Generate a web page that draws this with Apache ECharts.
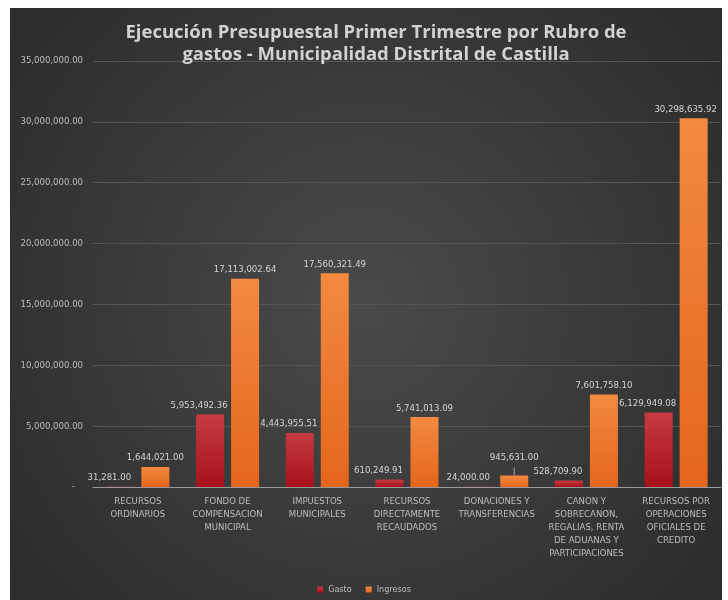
<!DOCTYPE html>
<html>
<head>
<meta charset="utf-8">
<script src="https://cdn.jsdelivr.net/npm/echarts@6/dist/echarts.min.js"></script>
<style>
  html, body { margin: 0; padding: 0; background: #fff; }
  #chart { width: 728px; height: 600px; }
</style>
</head>
<body>
<div id="chart"></div>
<script>
var categories = [
    'RECURSOS\nORDINARIOS',
    'FONDO DE\nCOMPENSACION\nMUNICIPAL',
    'IMPUESTOS\nMUNICIPALES',
    'RECURSOS\nDIRECTAMENTE\nRECAUDADOS',
    'DONACIONES Y\nTRANSFERENCIAS',
    'CANON Y\nSOBRECANON,\nREGALIAS, RENTA\nDE ADUANAS Y\nPARTICIPACIONES',
    'RECURSOS POR\nOPERACIONES\nOFICIALES DE\nCREDITO'
];
var gasto = [31281.00, 5953492.36, 4443955.51, 610249.91, 24000.00, 528709.90, 6129949.08];
var ingresos = [1644021.00, 17113002.64, 17560321.49, 5741013.09, 945631.00, 7601758.10, 30298635.92];

var font = '"Liberation Sans Narrow", "DejaVu Sans Condensed", sans-serif';

function money(v) {
    return v.toLocaleString('en-US', { minimumFractionDigits: 2, maximumFractionDigits: 2 });
}

var myChart = echarts.init(document.getElementById('chart'));

var option = {
    animation: false,
    graphic: [{
        type: 'rect',
        z: -10,
        silent: true,
        shape: { x: 10, y: 8, width: 712, height: 592 },
        style: {
            fill: new echarts.graphic.RadialGradient(0.5, 0.5, 0.75, [
                { offset: 0, color: '#4a4a4a' },
                { offset: 1, color: '#2c2c2c' }
            ])
        }
    }],
    title: {
        text: 'Ejecución Presupuestal Primer Trimestre por Rubro de\ngastos - Municipalidad Distrital de Castilla',
        left: 371,
        textAlign: 'center',
        top: 17,
        textStyle: {
            color: '#d2d2d2',
            fontFamily: '"Open Sans", sans-serif',
            fontWeight: 'bold',
            fontSize: 18.5,
            lineHeight: 22
        }
    },
    legend: {
        bottom: 1,
        left: 'center',
        icon: 'rect',
        itemWidth: 6,
        itemHeight: 6,
        itemGap: 14,
        textStyle: { color: '#bdbdbd', fontSize: 9, fontFamily: font },
        data: ['Gasto', 'Ingresos']
    },
    grid: {
        left: 93,
        right: 7,
        top: 61,
        bottom: 113,
        containLabel: false
    },
    xAxis: {
        type: 'category',
        data: categories,
        axisLine: { lineStyle: { color: '#9a9a9a' } },
        axisTick: { show: false },
        axisLabel: {
            color: '#bdbdbd',
            fontSize: 9.5,
            lineHeight: 13,
            fontFamily: font,
            interval: 0,
            margin: 8
        }
    },
    yAxis: {
        type: 'value',
        min: 0,
        max: 35000000,
        interval: 5000000,
        axisLine: { show: false },
        axisTick: { show: false },
        splitLine: { lineStyle: { color: '#565656', width: 1 } },
        axisLabel: {
            color: '#bdbdbd',
            fontSize: 9.5,
            fontFamily: font,
            margin: 10,
            formatter: function (v) { return v === 0 ? '-   ' : money(v); }
        }
    },
    series: [
        {
            name: 'Gasto',
            type: 'bar',
            barWidth: 28,
            barGap: '25%',
            data: gasto,
            itemStyle: {
                color: new echarts.graphic.LinearGradient(0, 0, 0, 1, [
                    { offset: 0, color: '#c63b40' },
                    { offset: 1, color: '#a8121a' }
                ])
            },
            label: {
                show: true,
                position: 'top',
                distance: 4,
                offset: [-11, 0],
                color: '#d4d4d4',
                fontSize: 9.5,
                fontFamily: font,
                formatter: function (p) { return money(p.value); }
            }
        },
        {
            name: 'Ingresos',
            type: 'bar',
            barWidth: 28,
            data: ingresos.map(function (v, i) {
                if (i === 4) {
                    return {
                        value: v,
                        label: { offset: [0, -9] },
                        labelLine: { show: true, lineStyle: { color: '#aaa', width: 1 } }
                    };
                }
                if (i === 6) {
                    return { value: v, label: { offset: [-8, 0] } };
                }
                return v;
            }),
            itemStyle: {
                color: new echarts.graphic.LinearGradient(0, 0, 0, 1, [
                    { offset: 0, color: '#f28a40' },
                    { offset: 1, color: '#e4661c' }
                ])
            },
            label: {
                show: true,
                position: 'top',
                distance: 4,
                color: '#d4d4d4',
                fontSize: 9.5,
                fontFamily: font,
                formatter: function (p) { return money(p.value); }
            }
        }
    ]
};

myChart.setOption(option);
</script>
</body>
</html>
